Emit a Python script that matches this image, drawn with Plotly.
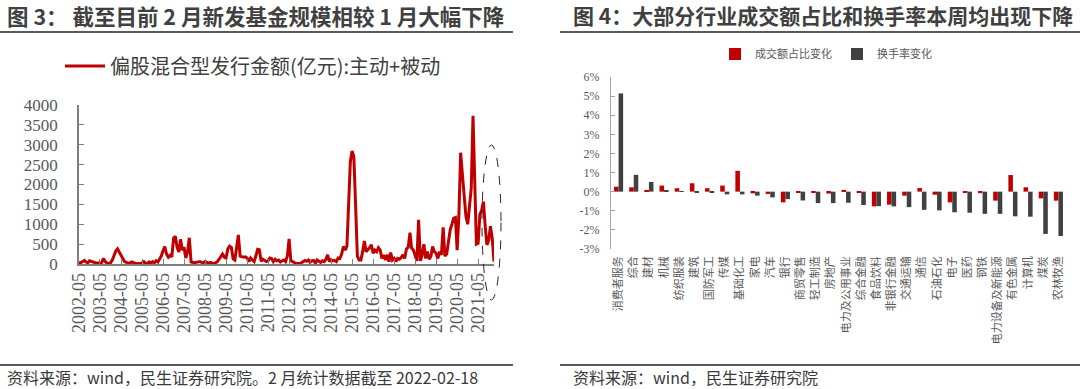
import pandas as pd
import plotly.graph_objects as go

# ---------------- Left chart data (monthly, 亿元) ----------------
months = pd.date_range("2002-05-01", "2022-02-01", freq="MS")
issuance = [
    40,
    30, 60, 90, 50, 30, 80, 60, 40, 30, 20, 30, 10,
    40, 140, 60, 20, 10,
    30, 100, 220, 330, 380, 300, 200, 120, 60, 40,
    30, 20, 50, 30, 10, 5, 10, 5, 30, 60, 20, 10, 50, 20, 60, 30, 80, 50,
    120, 200, 330, 440, 250, 170, 220, 180,
    650, 700, 420, 300, 620, 350, 420, 150, 300, 660, 50,
    40, 30, 40, 50, 60, 40, 30, 60, 30, 20, 40, 20, 10, 30, 60,
    120, 180, 250, 170, 150, 380, 450, 420, 130, 100, 400, 730, 200, 190, 170, 180,
    150, 60, 150, 100, 60, 200, 370, 360, 70, 120, 100, 60,
    80, 150, 140, 60, 120, 80, 100, 50, 80, 100,
    60, 200, 630, 80,
    60, 30, 10, 20, 10, 30, 60, 90, 70, 100, 40, 80, 90, 20, 100, 60, 40, 80, 60,
    120, 230, 60, 110, 80, 90, 60, 150,
    140, 250, 440, 350, 450, 1740, 2575, 2845, 2700, 1500, 200, 100, 100,
    310, 580, 310, 350, 410, 480, 270, 350, 310, 410, 350, 140, 230, 100, 230, 60,
    290, 100, 140, 60, 140, 120, 160, 230, 140, 380,
    420, 790, 400, 350, 200, 80, 1110, 80, 230, 500, 140, 310, 120, 200, 440, 310,
    270, 140, 310, 230, 920, 200, 250, 560, 860,
    1000, 1150, 1170, 350, 1250, 2800, 2240, 1740, 1200, 1000, 1500, 1900, 3730,
    2300, 500, 520, 1250, 1350, 1570, 950, 480, 600, 950, 650, 60,
]
year_ticks = pd.date_range("2002-05-01", "2021-05-01", freq="12MS")
y_ticks_left = [0, 500, 1000, 1500, 2000, 2500, 3000, 3500, 4000]

# ---------------- Right chart data (%) ----------------
industries = ["消费者服务", "综合", "建材", "机械", "纺织服装", "建筑", "国防军工", "传媒",
              "基础化工", "家电", "汽车", "银行", "商贸零售", "轻工制造", "房地产",
              "电力及公用事业", "综合金融", "食品饮料", "非银行金融", "交通运输", "通信",
              "石油石化", "电子", "医药", "钢铁", "电力设备及新能源", "有色金属", "计算机",
              "煤炭", "农林牧渔"]
share_chg = [0.26, 0.23, 0.09, 0.32, 0.18, 0.44, 0.18, 0.32, 1.09, -0.09, -0.12, -0.56,
             -0.05, -0.05, -0.10, 0.09, -0.04, -0.77, -0.68, -0.21, 0.19, -0.16, -0.56,
             -0.02, -0.08, -0.47, 0.87, 0.23, -0.35, -0.47]
turnover_chg = [5.14, 0.88, 0.51, 0.05, 0.01, -0.05, -0.04, -0.14, -0.14, -0.21, -0.30,
                -0.39, -0.46, -0.60, -0.60, -0.58, -0.70, -0.76, -0.77, -0.81, -0.95,
                -0.98, -1.08, -1.10, -1.16, -1.16, -1.29, -1.31, -2.21, -2.32]
y_ticks_right = [-3, -2, -1, 0, 1, 2, 3, 4, 5, 6]

W, H = 1080, 389
def px(x):
    return x / W
def py(y):
    return 1 - y / H

RED = "#C00000"
DARK = "#404040"
GRAY_TXT = "#595959"
CJK = "Noto Sans CJK SC"
SERIF = "Liberation Serif, Times New Roman, serif"

fig = go.Figure()

fig.add_trace(go.Scatter(
    x=months, y=issuance, mode="lines",
    line=dict(color=RED, width=3),
    name="偏股混合型发行金额(亿元):主动+被动",
    xaxis="x", yaxis="y", legend="legend",
))

fig.add_trace(go.Bar(
    x=industries, y=share_chg, name="成交额占比变化",
    marker=dict(color=RED, line=dict(width=0)),
    xaxis="x2", yaxis="y2", legend="legend2",
))
fig.add_trace(go.Bar(
    x=industries, y=turnover_chg, name="换手率变化",
    marker=dict(color=DARK, line=dict(width=0)),
    xaxis="x2", yaxis="y2", legend="legend2",
))

ydom_r = [py(249), py(77)]
zero_pos = ydom_r[0] + (0 - y_ticks_right[0]) / (y_ticks_right[-1] - y_ticks_right[0]) * (ydom_r[1] - ydom_r[0])

fig.update_layout(
    template="none",
    width=W, height=H,
    margin=dict(l=0, r=0, t=0, b=0, pad=0, autoexpand=False),
    paper_bgcolor="white", plot_bgcolor="white",
    hovermode=False,
    bargap=0.4, bargroupgap=0, barmode="group",
    xaxis=dict(
        domain=[px(79), px(494)], type="date",
        range=[months[0], months[-1]],
        tickvals=list(year_ticks), tickformat="%Y-%m", tickangle=-90,
        ticks="inside", ticklen=5, tickcolor="#7F7F7F",
        showline=True, linecolor="#7F7F7F", linewidth=1.5,
        showgrid=False, zeroline=False, automargin=False,
        tickfont=dict(family=SERIF, size=18, color=GRAY_TXT),
        anchor="y",
    ),
    yaxis=dict(
        domain=[py(264), py(105)], range=[0, 4000],
        tickvals=y_ticks_left,
        ticks="inside", ticklen=5, tickcolor="#7F7F7F",
        showline=True, linecolor="#7F7F7F", linewidth=1.5,
        showgrid=False, zeroline=False, automargin=False,
        tickfont=dict(family=SERIF, size=17, color=GRAY_TXT),
        ticklabelstandoff=16,
        anchor="x",
    ),
    xaxis2=dict(
        domain=[px(611), px(1066)], type="category",
        categoryorder="array", categoryarray=industries,
        range=[-0.5, len(industries) - 0.5],
        tickangle=-90, ticks="", showline=False, showgrid=False, zeroline=False,
        automargin=False,
        tickfont=dict(family=CJK, size=11, color=GRAY_TXT),
        ticklabelstandoff=4,
        anchor="y2",
    ),
    xaxis3=dict(
        overlaying="x2", anchor="free", position=zero_pos,
        range=[-0.5, len(industries) - 0.5],
        tickvals=[k + 0.5 for k in range(len(industries) - 1)],
        ticks="outside", ticklen=3, tickcolor="#A6A6A6",
        showticklabels=False, showline=True, linecolor="#A6A6A6", linewidth=1,
        showgrid=False, zeroline=False, automargin=False,
    ),
    yaxis2=dict(
        domain=ydom_r, range=[y_ticks_right[0] - 0.001, y_ticks_right[-1] + 0.001],
        tickvals=y_ticks_right, ticktext=[f"{v}%" for v in y_ticks_right],
        ticks="inside", ticklen=4, tickcolor="#A6A6A6",
        showline=True, linecolor="#A6A6A6", linewidth=1,
        showgrid=False, zeroline=False, automargin=False,
        tickfont=dict(family=SERIF, size=12, color=GRAY_TXT),
        ticklabelstandoff=8,
        anchor="x2",
    ),
    legend=dict(
        orientation="h", x=px(60), y=py(66), xanchor="left", yanchor="middle",
        font=dict(family=CJK, size=20, color="#404040"),
        bgcolor="rgba(0,0,0,0)", itemwidth=40,
    ),
    legend2=dict(
        orientation="h", x=px(826), y=py(54), xanchor="center", yanchor="middle",
        font=dict(family=CJK, size=11, color=GRAY_TXT),
        bgcolor="rgba(0,0,0,0)", itemwidth=30,
    ),
    showlegend=True,
)

# Titles, rules and sources
line_style = dict(color="#595959", width=2)
shapes = [
    dict(type="line", xref="paper", yref="paper", x0=0, x1=px(513), y0=py(32), y1=py(32), line=line_style),
    dict(type="line", xref="paper", yref="paper", x0=0, x1=px(513), y0=py(365), y1=py(365), line=line_style),
    dict(type="line", xref="paper", yref="paper", x0=px(560), x1=1, y0=py(32), y1=py(32), line=line_style),
    dict(type="line", xref="paper", yref="paper", x0=px(560), x1=1, y0=py(365), y1=py(365), line=line_style),
    dict(type="circle", xref="paper", yref="paper", x0=px(482), x1=px(501), y0=py(300), y1=py(145),
         line=dict(color="#262626", width=1, dash="dash")),
]
fig.update_layout(shapes=shapes)

annotations = [
    dict(text="<b>图 3： 截至目前 2 月新发基金规模相较 1 月大幅下降</b>", x=px(5), y=py(15),
         xanchor="left", yanchor="middle", font=dict(family=CJK, size=21.5, color="#404040")),
    dict(text="<b>图 4：大部分行业成交额占比和换手率本周均出现下降</b>", x=px(571), y=py(15),
         xanchor="left", yanchor="middle", font=dict(family=CJK, size=21, color="#404040")),
    dict(text="资料来源：wind，民生证券研究院。2 月统计数据截至 2022-02-18", x=px(5), y=py(377),
         xanchor="left", yanchor="middle", font=dict(family=CJK, size=16, color="#3A3A3A")),
    dict(text="资料来源：wind，民生证券研究院", x=px(571), y=py(377),
         xanchor="left", yanchor="middle", font=dict(family=CJK, size=16, color="#3A3A3A")),
]
for a in annotations:
    a.update(xref="paper", yref="paper", showarrow=False)
fig.update_layout(annotations=annotations)

fig.write_html(
    "out.html",
    config={"displayModeBar": False},
    post_script="document.body.style.margin='0';document.body.style.padding='0';",
)
